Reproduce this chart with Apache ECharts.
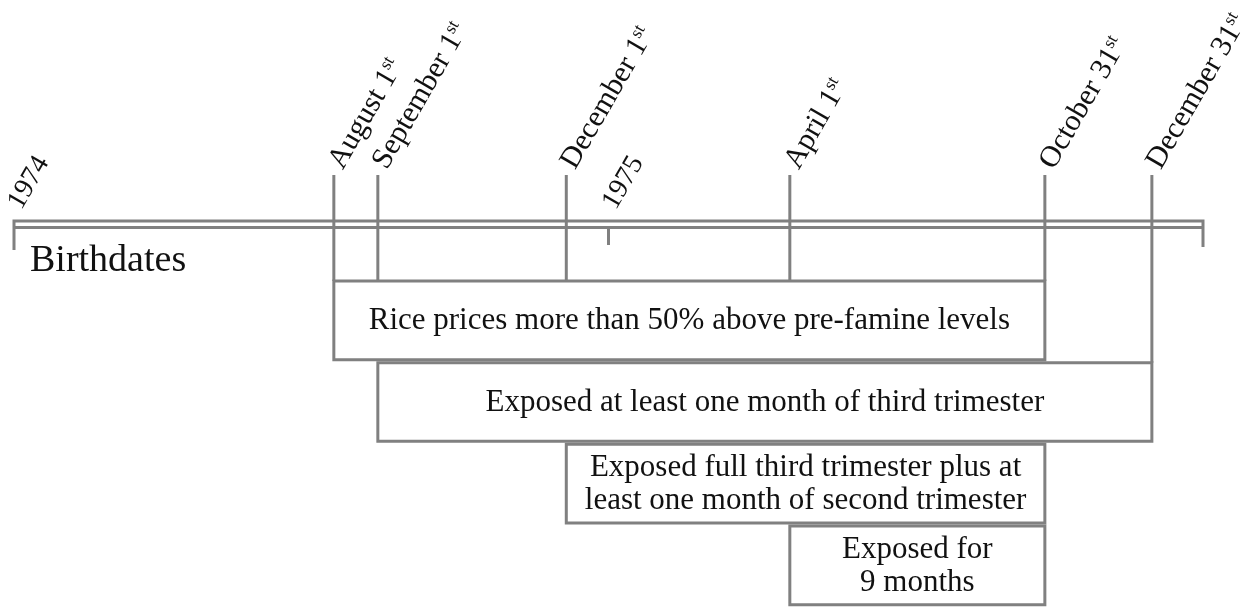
<!DOCTYPE html>
<html><head><meta charset="utf-8">
<script src="https://cdn.jsdelivr.net/npm/echarts@6/dist/echarts.min.js"></script>
<style>html,body{margin:0;padding:0;background:#fff}#c{width:1249px;height:608px}</style>
</head><body><div id="c"></div>
<script>
// Schematic timeline (positions in years after 1 Jan 1974, as drawn; the figure is not to scale)
const markerNames = ['August 1', 'September 1', 'December 1', 'April 1', 'October 31', 'December 31'];
const markerSup = ['st', 'st', 'st', 'st', 'st', 'st'];
const markerPos = [0.538, 0.612, 0.929, 1.305, 1.734, 1.914];
const yearLabels = ['1974', '1975'];
const yearPos = [0, 1];
const timelineEnd = 2;
const axisTitle = 'Birthdates';
// Exposure windows: start marker index, end marker index, row
const boxLabels = [
  'Rice prices more than 50% above pre-famine levels',
  'Exposed at least one month of third trimester',
  'Exposed full third trimester plus at\nleast one month of second trimester',
  'Exposed for\n9 months'
];
const boxStart = [0, 1, 2, 3];
const boxEnd = [4, 5, 4, 4];
const boxRow = [0, 1, 2, 3];

const LINE = '#808080';
const TXT = '#111';
const FONT = '"Liberation Serif", "DejaVu Serif", serif';

const boxData = boxLabels.map((l, i) => [markerPos[boxStart[i]], markerPos[boxEnd[i]], boxRow[i]]);
const markerData = markerPos.map((p) => {
  let stop = boxRow.length;
  for (let i = 0; i < boxLabels.length; i++) {
    if (p >= markerPos[boxStart[i]] - 1e-9 && p <= markerPos[boxEnd[i]] + 1e-9) { stop = boxRow[i]; break; }
  }
  return [p, stop];
});
const yearData = yearPos.map(p => [p, 0]);

const chart = echarts.init(document.getElementById('c'), null, {renderer: 'canvas'});
chart.setOption({
  animation: false,
  grid: {left: 14, width: 1189, top: 280, height: 326.7},
  xAxis: {type: 'value', min: 0, max: timelineEnd, show: false},
  yAxis: {type: 'value', min: 0, max: 4, inverse: true, show: false},
  series: [
    { // timeline bracket and year ticks
      type: 'custom', data: yearData, clip: false,
      renderItem(params, api) {
        const p = api.coord([api.value(0), 0]);
        const base = api.coord([0, 0])[1];
        const yTop = base - 59, yBot = base - 52.5;
        const children = [];
        const isFirst = params.dataIndex === 0;
        if (isFirst) {
          const e = api.coord([timelineEnd, 0]);
          children.push({type: 'polyline', shape: {points: [[p[0], base - 30], [p[0], yTop], [e[0], yTop], [e[0], base - 33]]}, style: {stroke: LINE, lineWidth: 3, fill: null}});
          children.push({type: 'line', shape: {x1: p[0], y1: yBot, x2: e[0], y2: yBot}, style: {stroke: LINE, lineWidth: 3}});
          children.push({type: 'text', x: p[0] + 16, y: base - 19, style: {text: axisTitle, font: '38px ' + FONT, fill: TXT, align: 'left', verticalAlign: 'middle'}});
        } else {
          children.push({type: 'line', shape: {x1: p[0], y1: yBot, x2: p[0], y2: base - 35}, style: {stroke: LINE, lineWidth: 3}});
        }
        children.push({type: 'text', x: p[0] + 13, y: base - 66, rotation: Math.PI / 3,
          style: {text: yearLabels[params.dataIndex], font: '28px ' + FONT, fill: TXT, align: 'left', verticalAlign: 'bottom'}});
        return {type: 'group', children};
      }
    },
    { // date markers
      type: 'custom', data: markerData, clip: false,
      renderItem(params, api) {
        const x = api.value(0);
        const base = api.coord([x, 0]);
        const stop = api.coord([x, api.value(1)]);
        const top = base[1] - 105;
        const i = params.dataIndex;
        return {type: 'group', children: [
          {type: 'line', shape: {x1: base[0], y1: top, x2: base[0], y2: stop[1] + 1}, style: {stroke: LINE, lineWidth: 3}},
          {type: 'text', x: base[0] + 15, y: top - 1, rotation: Math.PI / 3,
            style: {text: '{m|' + markerNames[i] + '}{s|' + markerSup[i] + '}', align: 'left', verticalAlign: 'bottom',
              rich: {m: {font: '30px ' + FONT, fill: TXT, lineHeight: 31, verticalAlign: 'bottom'},
                     s: {font: '18px ' + FONT, fill: TXT, lineHeight: 31, verticalAlign: 'top'}}}}
        ]};
      }
    },
    { // exposure boxes
      type: 'custom', data: boxData, clip: false,
      renderItem(params, api) {
        const r = api.value(2);
        const p0 = api.coord([api.value(0), r]);
        const p1 = api.coord([api.value(1), r + 1]);
        const top = p0[1] + 1, bottom = p1[1] - 2;
        return {type: 'group', children: [
          {type: 'rect', shape: {x: p0[0], y: top, width: p1[0] - p0[0], height: bottom - top}, style: {fill: null, stroke: LINE, lineWidth: 3}},
          {type: 'text', x: (p0[0] + p1[0]) / 2, y: (top + bottom) / 2 + 1,
            style: {text: boxLabels[params.dataIndex], font: '31px ' + FONT, fill: TXT, align: 'center', verticalAlign: 'middle', lineHeight: 33}}
        ]};
      }
    }
  ]
});
</script></body></html>
